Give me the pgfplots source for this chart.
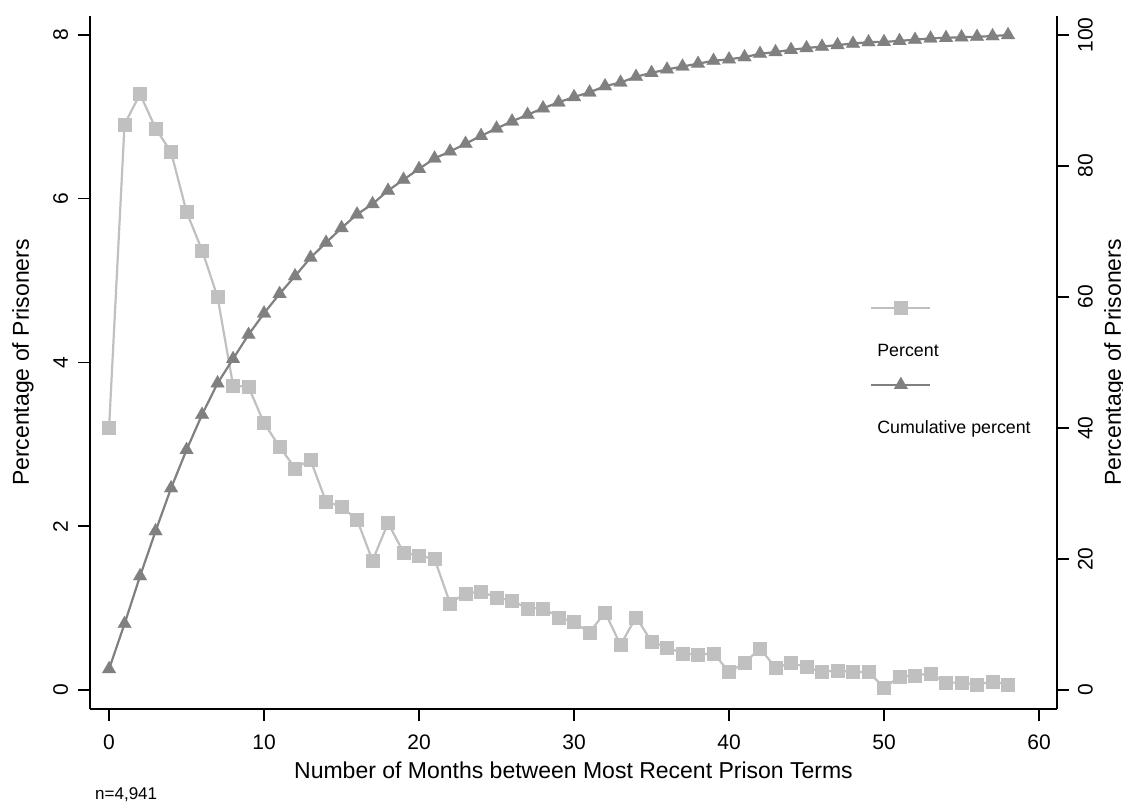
\documentclass[border=0pt]{standalone}
\usepackage{pgfplots}
\pgfplotsset{compat=1.18}
\usepackage{fontspec}
\setmainfont{Liberation Sans}
\definecolor{pctcol}{RGB}{192,192,192}
\definecolor{cumcol}{RGB}{128,128,128}
\pgfplotstableread{
m p
0 3.20
1 6.91
2 7.28
3 6.86
4 6.57
5 5.84
6 5.37
7 4.80
8 3.72
9 3.70
10 3.26
11 2.97
12 2.71
13 2.81
14 2.30
15 2.24
16 2.08
17 1.58
18 2.04
19 1.68
20 1.64
21 1.60
22 1.06
23 1.18
24 1.20
25 1.13
26 1.09
27 1.00
28 1.00
29 0.89
30 0.83
31 0.70
32 0.95
33 0.55
34 0.89
35 0.59
36 0.52
37 0.45
38 0.43
39 0.45
40 0.22
41 0.33
42 0.51
43 0.27
44 0.33
45 0.28
46 0.22
47 0.24
48 0.22
49 0.22
50 0.03
51 0.16
52 0.18
53 0.20
54 0.09
55 0.09
56 0.07
57 0.10
58 0.07
}\pcttable
\pgfplotstableread{
m c
0 3.20
1 10.11
2 17.39
3 24.25
4 30.82
5 36.66
6 42.03
7 46.83
8 50.55
9 54.25
10 57.51
11 60.48
12 63.19
13 66.00
14 68.30
15 70.54
16 72.62
17 74.20
18 76.24
19 77.92
20 79.56
21 81.16
22 82.22
23 83.40
24 84.60
25 85.73
26 86.82
27 87.82
28 88.82
29 89.71
30 90.54
31 91.24
32 92.19
33 92.74
34 93.63
35 94.22
36 94.74
37 95.19
38 95.62
39 96.07
40 96.29
41 96.62
42 97.13
43 97.40
44 97.73
45 98.01
46 98.23
47 98.47
48 98.69
49 98.91
50 98.94
51 99.10
52 99.28
53 99.48
54 99.57
55 99.66
56 99.73
57 99.83
58 100.00
}\cumtable
\pgfplotsset{
  pct/.style={color=pctcol, line width=1.1bp, mark=square*, mark size=3.25bp,
    mark options={solid, fill=pctcol, draw=pctcol, line width=0.1bp}},
  cum/.style={color=cumcol, line width=1.1bp, mark=triangle*, mark size=3.95bp,
    mark options={solid, fill=cumcol, draw=cumcol, line width=0.1bp}},
  keyimg/.style={legend image code/.code={\draw[overlay,mark repeat=2,mark phase=2,##1]
    plot coordinates {(-1bp,2.75bp) (13.75bp,2.75bp) (28.5bp,2.75bp)};}},
  base/.style={
    scale only axis, width=483.5bp, height=346.5bp,
    xmin=-1.23, xmax=61.16,
    tick align=outside, major tick length=6bp,
    every tick/.style={black, line width=0.75bp},
    axis line style={black, line width=0.75bp},
    /pgf/number format/assume math mode=true,
    tick label style={font=\fontsize{10.5bp}{12bp}\selectfont},
    label style={font=\fontsize{11.5bp}{13bp}\selectfont},
    clip=false,
  }
}
\begin{document}
\begin{tikzpicture}
\begin{axis}[base, name=ax,
  axis x line*=bottom, axis y line*=left,
  ymin=-0.232, ymax=8.232,
  xtick={0,10,...,60}, ytick={0,2,4,6,8},
  xticklabel shift=3.5bp, yticklabel shift=1.5bp,
  yticklabel style={rotate=90, anchor=south},
  xlabel={Number of Months between Most Recent Prison Terms},
  ylabel={Percentage of Prisoners},
  xlabel style={at={(axis description cs:0.5,-0.0996)}, anchor=base},
  ylabel style={at={(axis description cs:-0.0631,0.5)}, anchor=base},
  legend cell align=left,
  legend style={at={(axis description cs:0.8097,0.5895)}, anchor=north west,
    draw=none, fill=none, inner sep=0pt, row sep=6.75bp,
    font=\fontsize{8.9bp}{10bp}\selectfont,
    nodes={text height=6.5bp, text depth=2bp, inner sep=2bp}},
]
\addplot[pct, keyimg] table[x=m, y=p] {\pcttable};
\addlegendentry{\mbox{}}
\addlegendimage{empty legend}
\addlegendentry{Percent}
\addlegendimage{cum, keyimg}
\addlegendentry{\mbox{}}
\addlegendimage{empty legend}
\addlegendentry{Cumulative percent}
\node[anchor=base west, font=\fontsize{8.5bp}{10bp}\selectfont, inner sep=0pt]
  at (axis description cs:0.005,-0.1313) {n=4,941};
\end{axis}
\begin{axis}[base,
  axis x line=none, axis y line*=right,
  ymin=-2.9, ymax=102.9,
  ytick={0,20,...,100},
  yticklabel shift=1bp,
  yticklabel style={rotate=90, anchor=north},
  ylabel={Percentage of Prisoners},
  ylabel style={at={(axis description cs:1.066,0.5)}, anchor=base},
]
\addplot[cum] table[x=m, y=c] {\cumtable};
\end{axis}
\pgfresetboundingbox
\path[use as bounding box] ([shift={(-45bp,-47bp)}]ax.south west) rectangle ([shift={(33bp,8bp)}]ax.north east);
\end{tikzpicture}
\end{document}
